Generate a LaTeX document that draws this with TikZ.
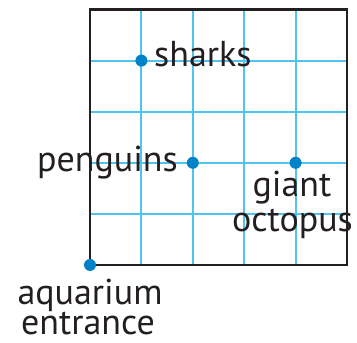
\documentclass[tikz,border=0pt]{standalone}
\usepackage{fontspec}
\setmainfont{PT Sans}
\definecolor{gridblue}{RGB}{80,195,240}
\definecolor{dotblue}{RGB}{0,130,200}
\definecolor{ink}{RGB}{35,31,32}
\begin{document}
\begin{tikzpicture}[x=1pt,y=1pt,
  gridline/.style={draw=gridblue,line width=2pt},
  frame/.style={draw=ink,line width=2.8pt},
  dot/.style={circle,fill=dotblue,inner sep=0pt,minimum size=12pt},
  lbl/.style={text=ink,font=\fontsize{36}{38}\selectfont,inner sep=0pt,align=center}]
\useasboundingbox (0,0) rectangle (357,343);
\foreach \i in {1,...,4}{
  \draw[gridline] ({90+\i*51.4},78) -- ({90+\i*51.4},333.5);
  \draw[gridline] (90,{78+\i*51.1}) -- (347,{78+\i*51.1});
}
\draw[frame] (90,78) rectangle (347,333.5);
\node[dot] (ent) at (90,78) {};
\node[dot] (shk) at (141.4,282.4) {};
\node[dot] (pen) at (192.8,180.2) {};
\node[dot] (oct) at (295.6,180.2) {};
\node[lbl,anchor=base west] (tshk) at (154,276.5) {sharks};
\node[lbl,anchor=base east] (tpen) at (178,171.5) {penguins};
\node[lbl,anchor=base] (tgiant) at (292,146) {giant};
\node[lbl,anchor=base] (toct) at (292.5,111) {octopus};
\node[lbl,anchor=base] (taq) at (90,38) {aquarium};
\node[lbl,anchor=base] (tent) at (88,8) {entrance};
\end{tikzpicture}
\end{document}
